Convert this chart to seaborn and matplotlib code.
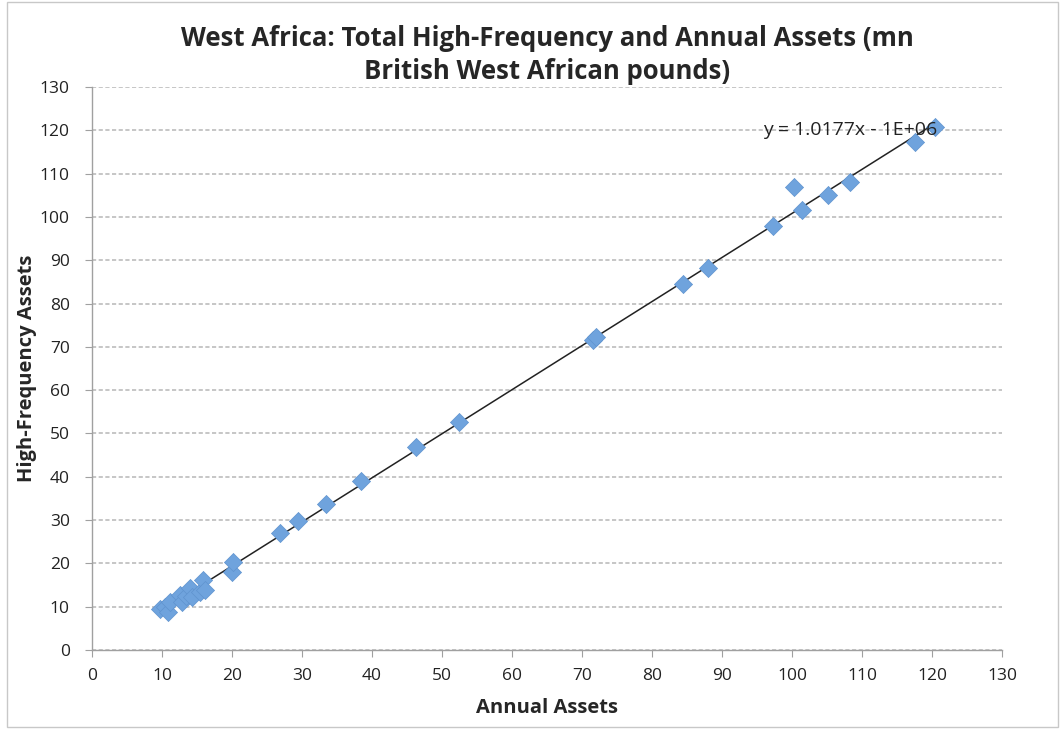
import numpy as np
import pandas as pd
import matplotlib
matplotlib.use('Agg')
import matplotlib.pyplot as plt
import seaborn as sns
from matplotlib.patches import Rectangle

sns.set_style('white')
plt.rcParams['font.family'] = ['Open Sans', 'DejaVu Sans']

# values (mn British West African pounds)
annual_assets = [9.7, 10.4, 10.9, 11.1, 12.6, 12.9, 13.5, 14.0, 14.3, 15.5, 15.9, 16.1,
                 20.0, 20.2, 26.9, 29.5, 33.4, 38.4, 46.3, 52.4, 71.6, 72.0,
                 84.4, 88.0, 97.3, 100.3, 101.4, 105.1, 108.3, 117.6, 120.4]
high_freq_assets = [9.5, 9.9, 8.8, 11.1, 12.7, 11.1, 12.5, 14.3, 12.2, 13.3, 16.2, 13.9,
                    18.0, 20.3, 27.0, 29.8, 33.7, 39.0, 46.9, 52.7, 71.6, 72.3,
                    84.5, 88.2, 97.9, 106.9, 101.6, 105.0, 108.0, 117.3, 120.8]
equation_label = 'y = 1.0177x - 1E+06'

df = pd.DataFrame({'Annual Assets': annual_assets, 'High-Frequency Assets': high_freq_assets})

fig = plt.figure(figsize=(10.61, 7.29), dpi=100)
ax = fig.add_axes([0.0867, 0.1084, 0.8577, 0.7723])

# linear trendline
slope, intercept = np.polyfit(df['Annual Assets'], df['High-Frequency Assets'], 1)
xs = np.array([df['Annual Assets'].min() - 0.3, df['Annual Assets'].max()])
ax.plot(xs, slope * xs + intercept, color='#222222', lw=1.1, zorder=2)

sns.scatterplot(data=df, x='Annual Assets', y='High-Frequency Assets', marker='D', s=85,
                color='#6fa3dd', edgecolor='#5f93cf', linewidth=0.5, ax=ax, zorder=3)

ax.set_xlim(0, 130)
ax.set_ylim(0, 130)
ax.set_xticks(range(0, 131, 10))
ax.set_yticks(range(0, 131, 10))
ax.yaxis.grid(True, ls=(0, (2.5, 1.5)), color='#bcbcbc', lw=1.2)
ax.xaxis.grid(False)
ax.set_axisbelow(True)

for s in ['top', 'right']:
    ax.spines[s].set_visible(False)
for s in ['left', 'bottom']:
    ax.spines[s].set_color('#a0a0a0')
    ax.spines[s].set_linewidth(1.0)
ax.tick_params(axis='both', direction='out', length=5, color='#a0a0a0', labelsize=12.5,
               labelcolor='#222222', bottom=True, left=True)
ax.tick_params(axis='y', pad=11)
ax.tick_params(axis='x', pad=8)

ax.set_xlabel('Annual Assets', fontsize=14.5, fontweight='bold', labelpad=10)
ax.set_ylabel('High-Frequency Assets', fontsize=14.5, fontweight='bold', labelpad=2)
ax.set_title('West Africa: Total High-Frequency and Annual Assets (mn\nBritish West African pounds)',
             fontsize=18.5, fontweight='bold', pad=6, linespacing=1.25)

ax.text(108.3, 120, equation_label, fontsize=14, ha='center', va='center', color='#222222')

fig.patches.append(Rectangle((0.007, 0.003), 0.99, 0.994, transform=fig.transFigure,
                             fill=False, edgecolor='#c8c8c8', lw=1.0))

fig.savefig('out.png', dpi=100)
